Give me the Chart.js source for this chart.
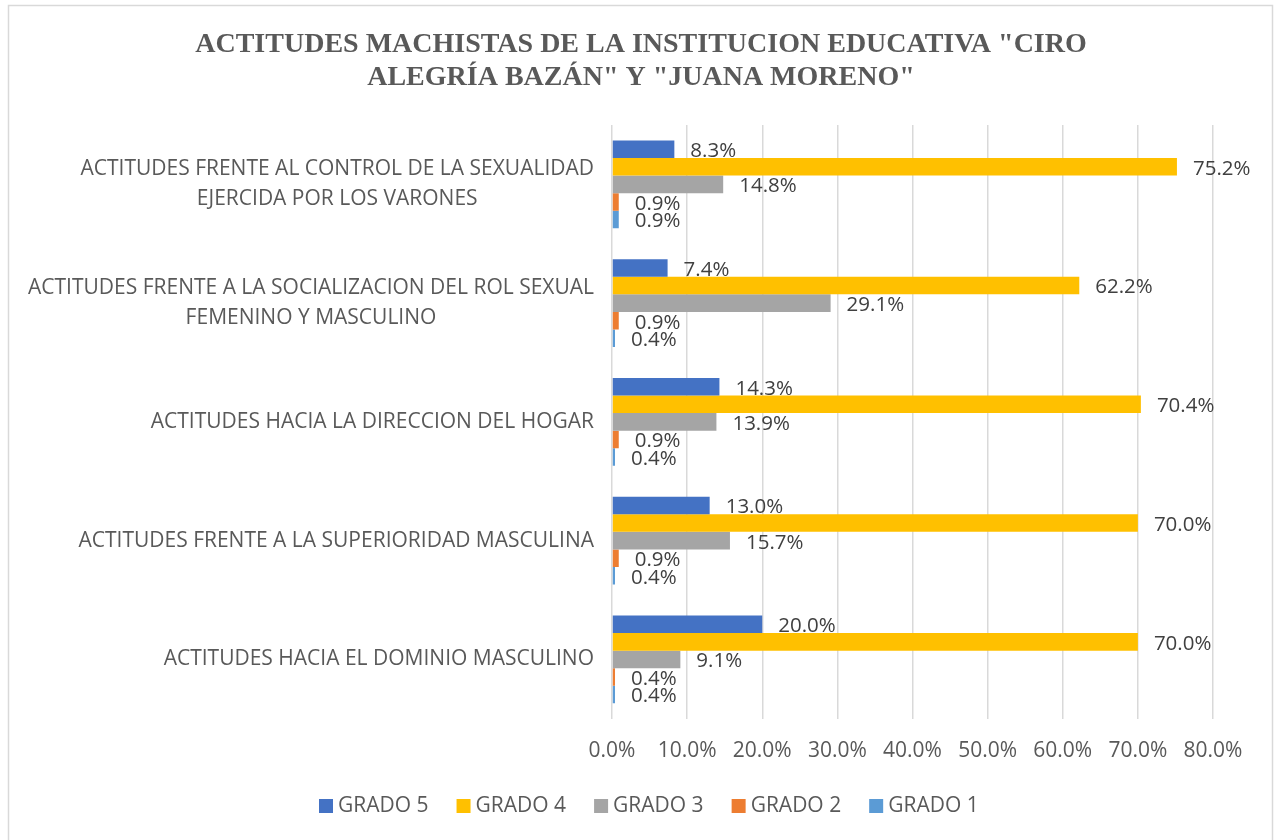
<!DOCTYPE html>
<html>
<head>
<meta charset="utf-8">
<script src="https://cdn.jsdelivr.net/npm/chart.js@4.4.0/dist/chart.umd.min.js"></script>
<style>
  body { margin: 0; background: #fff; }
  #wrap { width: 1280px; height: 840px; }
</style>
</head>
<body>
<div id="wrap"><canvas id="myChart" width="1280" height="840"></canvas></div>
<script>
const titleLines = ['ACTITUDES MACHISTAS DE LA INSTITUCION EDUCATIVA "CIRO', 'ALEGRÍA BAZÁN" Y "JUANA MORENO"'];

const categories = [
    ['ACTITUDES FRENTE AL CONTROL DE LA SEXUALIDAD', 'EJERCIDA POR LOS VARONES'],
    ['ACTITUDES FRENTE A LA SOCIALIZACION DEL ROL SEXUAL', 'FEMENINO Y MASCULINO'],
    ['ACTITUDES HACIA LA DIRECCION DEL HOGAR'],
    ['ACTITUDES FRENTE A LA SUPERIORIDAD MASCULINA'],
    ['ACTITUDES HACIA EL DOMINIO MASCULINO']
];

const seriesNames = ['GRADO 5', 'GRADO 4', 'GRADO 3', 'GRADO 2', 'GRADO 1'];
const grado5 = [8.3, 7.4, 14.3, 13.0, 20.0];
const grado4 = [75.2, 62.2, 70.4, 70.0, 70.0];
const grado3 = [14.8, 29.1, 13.9, 15.7, 9.1];
const grado2 = [0.9, 0.9, 0.9, 0.9, 0.4];
const grado1 = [0.9, 0.4, 0.4, 0.4, 0.4];

const xTicks = [0, 10, 20, 30, 40, 50, 60, 70, 80];

const colors = ['#4472C4', '#FFC000', '#A5A5A5', '#ED7D31', '#5B9BD5'];
const sansFont = '"Open Sans", sans-serif';

// frame + title
const framePlugin = {
    id: 'framePlugin',
    beforeDraw: function (chart) {
        const c = chart.ctx;
        c.save();
        c.fillStyle = '#fff';
        c.fillRect(0, 0, chart.width, chart.height);
        c.strokeStyle = '#D9D9D9';
        c.lineWidth = 1.5;
        c.strokeRect(8.5, 5.5, 1264, 840);
        c.fillStyle = '#595959';
        c.font = 'bold 28px "Liberation Serif", "Times New Roman", serif';
        c.textAlign = 'center';
        c.textBaseline = 'alphabetic';
        c.fillText(titleLines[0], 641, 52);
        c.fillText(titleLines[1], 641, 85);
        c.restore();
    }
};

// category labels: block right aligned, lines centred
const yLabelsPlugin = {
    id: 'yLabelsPlugin',
    afterDraw: function (chart) {
        const c = chart.ctx;
        const yScale = chart.scales.y;
        c.save();
        c.font = '21px ' + sansFont;
        c.fillStyle = '#595959';
        c.textAlign = 'center';
        c.textBaseline = 'middle';
        chart.data.labels.forEach(function (lab, i) {
            const lines = Array.isArray(lab) ? lab : [lab];
            const w = Math.max.apply(null, lines.map(function (l) { return c.measureText(l).width; }));
            const cx = chart.chartArea.left - 18 - w / 2;
            const y0 = yScale.getPixelForTick(i) - (lines.length - 1) * 30 / 2;
            lines.forEach(function (l, j) {
                c.fillText(l, cx, y0 + j * 30);
            });
        });
        c.restore();
    }
};

// value labels at bar ends
const valueLabelsPlugin = {
    id: 'valueLabelsPlugin',
    afterDatasetsDraw: function (chart) {
        const c = chart.ctx;
        c.save();
        c.font = '20.5px ' + sansFont;
        c.fillStyle = '#404040';
        c.textAlign = 'left';
        c.textBaseline = 'middle';
        chart.data.datasets.forEach(function (ds, di) {
            const meta = chart.getDatasetMeta(di);
            meta.data.forEach(function (bar, i) {
                c.fillText(ds.data[i].toFixed(1) + '%', bar.x + 16, bar.y + 2);
            });
        });
        c.restore();
    }
};

// legend under the axis
const legendPlugin = {
    id: 'legendPlugin',
    afterDraw: function (chart) {
        const c = chart.ctx;
        c.save();
        c.font = '21px ' + sansFont;
        c.textAlign = 'left';
        c.textBaseline = 'middle';
        let x = 319;
        const y = 806;
        chart.data.datasets.forEach(function (ds) {
            c.fillStyle = ds.backgroundColor;
            c.fillRect(x, y - 7, 14, 14);
            c.fillStyle = '#595959';
            c.fillText(ds.label, x + 19, y);
            x += 19 + c.measureText(ds.label).width + 28;
        });
        c.restore();
    }
};

const seriesData = [grado5, grado4, grado3, grado2, grado1];

const ctx = document.getElementById('myChart');
new Chart(ctx, {
    type: 'bar',
    data: {
        labels: categories,
        datasets: seriesNames.map(function (name, i) {
            return {
                label: name,
                data: seriesData[i],
                backgroundColor: colors[i],
                borderWidth: 0,
                barPercentage: 1.0,
                categoryPercentage: 0.74
            };
        })
    },
    options: {
        responsive: false,
        animation: false,
        indexAxis: 'y',
        layout: { padding: { top: 125, left: 0, right: 67, bottom: 56 } },
        plugins: {
            legend: { display: false },
            title: { display: false },
            tooltip: { enabled: false }
        },
        scales: {
            x: {
                min: 0,
                max: 80,
                afterBuildTicks: function (scale) {
                    scale.ticks = xTicks.map(function (v) { return { value: v }; });
                },
                grid: { color: '#D9D9D9', lineWidth: 1.5, drawTicks: false },
                border: { display: false },
                ticks: {
                    padding: 20,
                    color: '#595959',
                    font: { family: sansFont, size: 21 },
                    callback: function (v) { return Number(v).toFixed(1) + '%'; }
                }
            },
            y: {
                grid: { display: false },
                border: { display: false },
                ticks: { display: false },
                afterFit: function (scale) { scale.width = 612; }
            }
        }
    },
    plugins: [framePlugin, yLabelsPlugin, valueLabelsPlugin, legendPlugin]
});
</script>
</body>
</html>
